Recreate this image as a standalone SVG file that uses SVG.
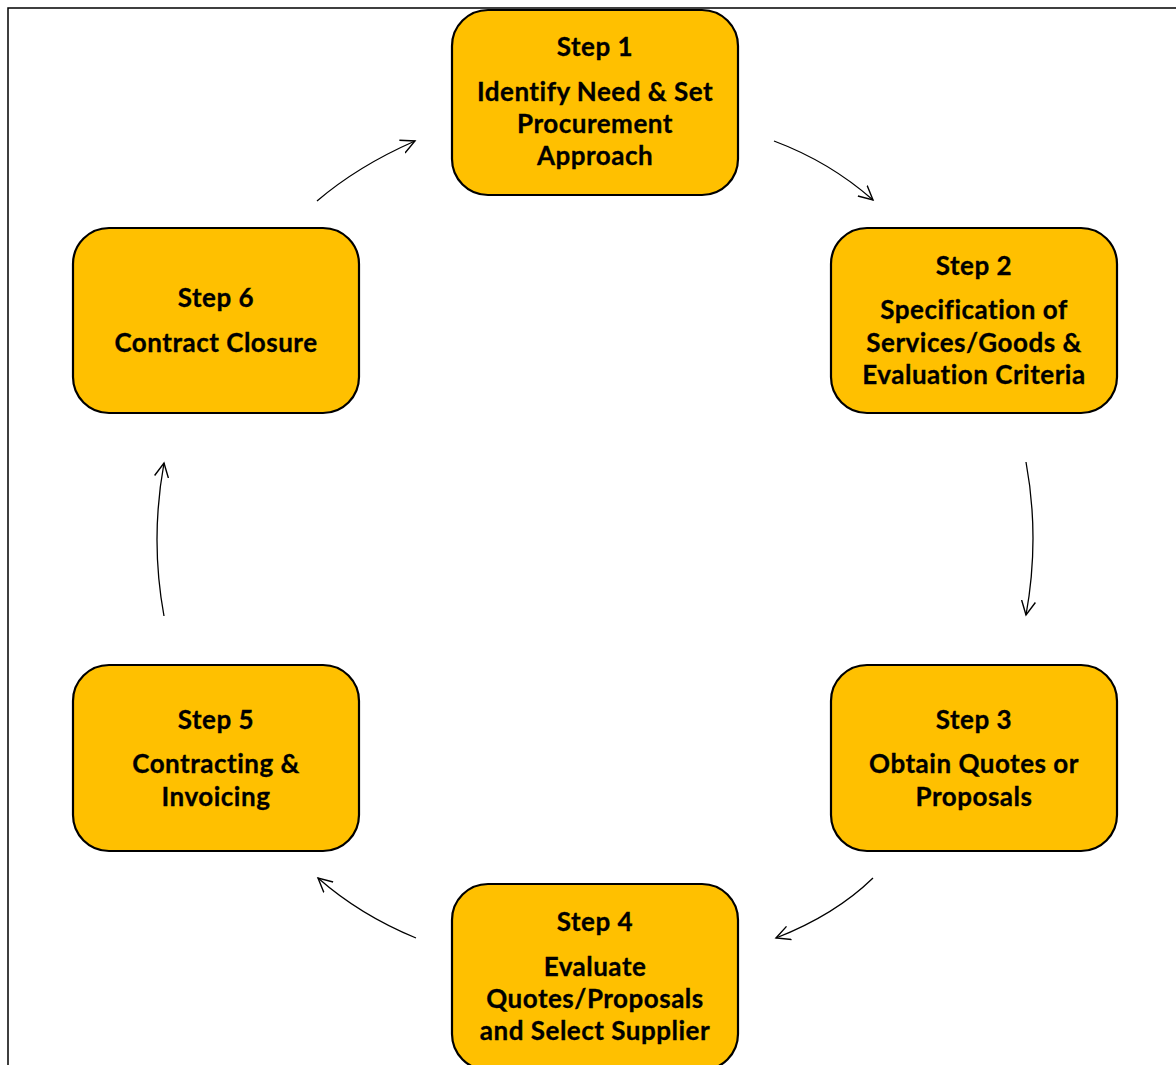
<svg xmlns="http://www.w3.org/2000/svg" width="1176" height="1065" viewBox="0 0 1176 1065">
<style>
.box{fill:#FFC000;stroke:#000;stroke-width:2.2}
.t{font-family:Lato,"Liberation Sans",sans-serif;font-weight:bold;font-size:26px;letter-spacing:0.5px;fill:#000;stroke:#000;stroke-width:0.3;text-anchor:middle}
.c{fill:none;stroke:#000;stroke-width:1.3;marker-end:url(#ah)}
</style>
<defs>
<marker id="ah" markerUnits="userSpaceOnUse" markerWidth="20" markerHeight="20" refX="14" refY="7" orient="auto" viewBox="0 0 20 14">
<path d="M0,0 L14,7 L0,14" fill="none" stroke="#000" stroke-width="1.4"/>
</marker>
</defs>
<rect width="1176" height="1065" fill="#fff"/>
<path d="M8,1065 V8 H1176" fill="none" stroke="#000" stroke-width="1.5"/>
<g id="connectors">
<path class="c" d="M317,201 Q358,166 415,141"/>
<path class="c" d="M774,141 Q830,162 873,200"/>
<path class="c" d="M1026,462 Q1040,538 1026,615"/>
<path class="c" d="M873,878 Q835,915 776,938"/>
<path class="c" d="M416,938 Q360,915 318,878"/>
<path class="c" d="M164,616 Q150,540 164,463"/>
</g>
<g id="step1">
<rect class="box" x="452" y="10" width="286" height="185" rx="36"/>
<text class="t" x="595" y="56">Step 1</text>
<text class="t" x="595" y="101">Identify Need &amp; Set</text>
<text class="t" x="595" y="133">Procurement</text>
<text class="t" x="595" y="165">Approach</text>
</g>
<g id="step2">
<rect class="box" x="831" y="228" width="286" height="185" rx="36"/>
<text class="t" x="974" y="275">Step 2</text>
<text class="t" x="974" y="319">Specification of</text>
<text class="t" x="974" y="352">Services/Goods &amp;</text>
<text class="t" x="974" y="384">Evaluation Criteria</text>
</g>
<g id="step3">
<rect class="box" x="831" y="665" width="286" height="186" rx="36"/>
<text class="t" x="974" y="729">Step 3</text>
<text class="t" x="974" y="773">Obtain Quotes or</text>
<text class="t" x="974" y="806">Proposals</text>
</g>
<g id="step4">
<rect class="box" x="452" y="884" width="286" height="186" rx="36"/>
<text class="t" x="595" y="931">Step 4</text>
<text class="t" x="595" y="976">Evaluate</text>
<text class="t" x="595" y="1008">Quotes/Proposals</text>
<text class="t" x="595" y="1040">and Select Supplier</text>
</g>
<g id="step5">
<rect class="box" x="73" y="665" width="286" height="186" rx="36"/>
<text class="t" x="216" y="729">Step 5</text>
<text class="t" x="216" y="773">Contracting &amp;</text>
<text class="t" x="216" y="806">Invoicing</text>
</g>
<g id="step6">
<rect class="box" x="73" y="228" width="286" height="185" rx="36"/>
<text class="t" x="216" y="307">Step 6</text>
<text class="t" x="216" y="352">Contract Closure</text>
</g>
</svg>
